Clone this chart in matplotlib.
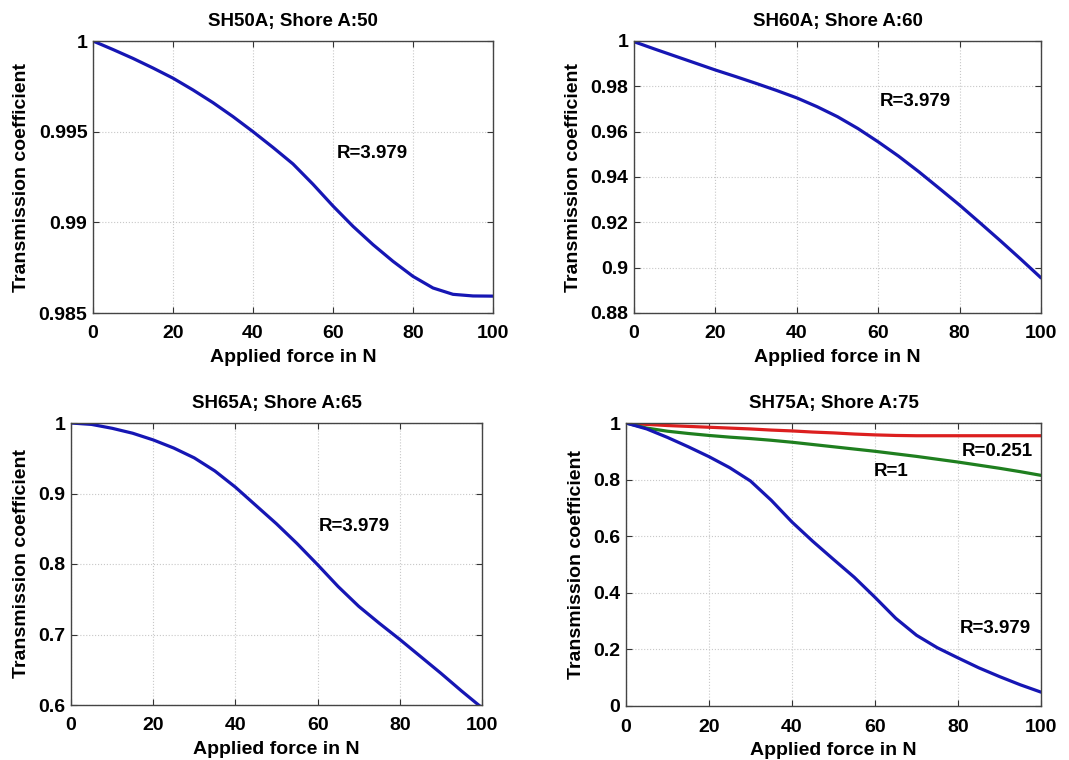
import matplotlib
matplotlib.use("Agg")
import matplotlib.pyplot as plt

plt.rcParams['font.family'] = ['Liberation Sans', 'DejaVu Sans']
plt.rcParams['font.weight'] = 'bold'

force = [0, 5, 10, 15, 20, 25, 30, 35, 40, 45, 50, 55, 60, 65, 70, 75, 80, 85, 90, 95, 100]

sh50_r3979 = [1.0, 0.99953, 0.99904, 0.99851, 0.99795, 0.99730, 0.99660, 0.99583, 0.99500, 0.99413, 0.99322,
              0.99210, 0.99090, 0.98978, 0.98877, 0.98785, 0.98702, 0.98638, 0.98603, 0.98594, 0.98593]
sh60_r3979 = [0.9997, 0.9965, 0.9934, 0.9903, 0.9872, 0.9843, 0.9813, 0.9782, 0.9749, 0.9710, 0.9666,
              0.9614, 0.9555, 0.9492, 0.9423, 0.9350, 0.9276, 0.9198, 0.9119, 0.9038, 0.8955]
sh65_r3979 = [1.0, 0.998, 0.9925, 0.9855, 0.976, 0.9645, 0.9505, 0.932, 0.909, 0.883, 0.857,
              0.829, 0.799, 0.768, 0.740, 0.716, 0.693, 0.669, 0.645, 0.620, 0.596]
sh75_r3979 = [1.0, 0.979, 0.949, 0.916, 0.881, 0.842, 0.795, 0.727, 0.650, 0.582, 0.518,
              0.455, 0.384, 0.310, 0.250, 0.206, 0.170, 0.135, 0.104, 0.075, 0.049]
sh75_r1 = [1.0, 0.982, 0.971, 0.963, 0.956, 0.950, 0.945, 0.939, 0.932, 0.924, 0.916,
           0.908, 0.900, 0.891, 0.882, 0.872, 0.862, 0.851, 0.840, 0.828, 0.815]
sh75_r0251 = [1.0, 0.995, 0.991, 0.988, 0.985, 0.982, 0.979, 0.975, 0.972, 0.968, 0.965,
              0.961, 0.958, 0.956, 0.955, 0.955, 0.955, 0.955, 0.955, 0.955, 0.955]

titles = ["SH50A; Shore A:50", "SH60A; Shore A:60", "SH65A; Shore A:65", "SH75A; Shore A:75"]
x_ticks = [0, 20, 40, 60, 80, 100]
y_ticks_50 = [0.985, 0.99, 0.995, 1]
y_labels_50 = ["0.985", "0.99", "0.995", "1"]
y_ticks_60 = [0.88, 0.9, 0.92, 0.94, 0.96, 0.98, 1]
y_labels_60 = ["0.88", "0.9", "0.92", "0.94", "0.96", "0.98", "1"]
y_ticks_65 = [0.6, 0.7, 0.8, 0.9, 1]
y_labels_65 = ["0.6", "0.7", "0.8", "0.9", "1"]
y_ticks_75 = [0, 0.2, 0.4, 0.6, 0.8, 1]
y_labels_75 = ["0", "0.2", "0.4", "0.6", "0.8", "1"]

BLUE = '#1616b4'
GREEN = '#1f7f1f'
RED = '#dc1f1f'

fig = plt.figure(figsize=(10.69, 7.6), dpi=100)
W, H = 1069, 760

def make_ax(l, r, t, b):
    return fig.add_axes([l / W, 1 - b / H, (r - l) / W, (b - t) / H])

axes = [make_ax(93, 493, 41, 313), make_ax(634, 1041, 41, 313),
        make_ax(71, 482, 423, 705), make_ax(626, 1041, 423, 706)]

specs = [
    (y_ticks_50, y_labels_50, [(sh50_r3979, BLUE)], [("R=3.979", 61, 0.9938)]),
    (y_ticks_60, y_labels_60, [(sh60_r3979, BLUE)], [("R=3.979", 60.5, 0.9735)]),
    (y_ticks_65, y_labels_65, [(sh65_r3979, BLUE)], [("R=3.979", 60.2, 0.853)]),
    (y_ticks_75, y_labels_75, [(sh75_r0251, RED), (sh75_r1, GREEN), (sh75_r3979, BLUE)],
     [("R=0.251", 81, 0.90), ("R=1", 59.6, 0.829), ("R=3.979", 80.5, 0.274)]),
]

for ax, title, (yt, yl, series, notes) in zip(axes, titles, specs):
    for ys, c in series:
        ax.plot(force, ys, color=c, lw=2.3, solid_capstyle='round', solid_joinstyle='round')
    ax.set_xlim(0, 100)
    ax.set_ylim(yt[0], yt[-1])
    ax.set_xticks(x_ticks)
    ax.set_xticklabels([str(v) for v in x_ticks])
    ax.set_yticks(yt)
    ax.set_yticklabels(yl)
    ax.tick_params(direction='in', top=True, right=True, labelsize=14, length=4,
                   color='#333333')
    ax.tick_params(axis='x', pad=9)
    ax.tick_params(axis='y', pad=4)
    for lab in ax.get_xticklabels() + ax.get_yticklabels():
        lab.set_fontweight('bold')
    ax.grid(True, color='#c8c8c8', linestyle=':', linewidth=0.8)
    for s in ax.spines.values():
        s.set_color('#444444')
        s.set_linewidth(1.0)
    ax.set_title(title, fontsize=13.5, fontweight='bold', pad=11)
    ax.set_xlabel("Applied force in N", fontsize=14, fontweight='bold', labelpad=5)
    ax.set_ylabel("Transmission coefficient", fontsize=14, fontweight='bold', labelpad=6)
    for txt, xx, yy in notes:
        ax.text(xx, yy, txt, fontsize=13.5, fontweight='bold', ha='left', va='center')

fig.savefig("out.png", dpi=100, facecolor='white')
